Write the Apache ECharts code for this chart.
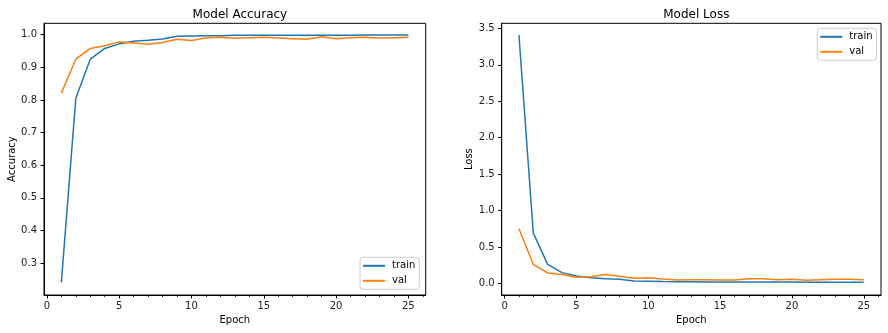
<!DOCTYPE html>
<html>
<head>
<meta charset="utf-8">
<script src="https://cdn.jsdelivr.net/npm/echarts@6/dist/echarts.min.js"></script>
<style>
html,body{margin:0;padding:0;background:#fff;}
#chart{width:888px;height:333px;}
</style>
</head>
<body>
<div id="chart"></div>
<script>
var epochs = [1,2,3,4,5,6,7,8,9,10,11,12,13,14,15,16,17,18,19,20,21,22,23,24,25];
var accTrain = [0.241,0.805,0.925,0.958,0.972,0.980,0.983,0.987,0.995,0.996,0.997,0.997,0.998,0.998,0.998,0.998,0.998,0.998,0.998,0.998,0.998,0.999,0.999,0.999,0.999];
var accVal = [0.821,0.925,0.958,0.966,0.978,0.975,0.971,0.976,0.986,0.982,0.990,0.992,0.989,0.991,0.992,0.990,0.988,0.986,0.994,0.988,0.991,0.992,0.990,0.991,0.992];
var lossTrain = [3.41,0.69,0.26,0.147,0.100,0.078,0.064,0.055,0.032,0.028,0.024,0.022,0.021,0.020,0.019,0.019,0.018,0.018,0.017,0.017,0.016,0.016,0.015,0.015,0.015];
var lossVal = [0.75,0.26,0.142,0.120,0.083,0.092,0.120,0.096,0.069,0.078,0.060,0.046,0.050,0.050,0.046,0.046,0.064,0.064,0.050,0.055,0.041,0.050,0.055,0.055,0.050];
var xTicks = [0,5,10,15,20,25];
var xMinor = [0,1,2,3,4,5,6,7,8,9,10,11,12,13,14,15,16,17,18,19,20,21,22,23,24,25,26];
var accTicks = [0.3,0.4,0.5,0.6,0.7,0.8,0.9,1.0];
var lossTicks = [0,0.5,1.0,1.5,2.0,2.5,3.0,3.5];

var FONT = 'DejaVu Sans';
var C1 = '#1f77b4', C2 = '#ff7f0e';
function pair(xs, ys){ return xs.map(function(x,i){return [x, ys[i]];}); }

function xMajor(gi){
  return {
    type:'value', gridIndex:gi, min:-0.2, max:26.2, position:'bottom',
    name:'Epoch', nameLocation:'middle', nameGap:20,
    nameTextStyle:{fontFamily:FONT,fontSize:10,color:'#000'},
    axisLine:{show:true,onZero:false,lineStyle:{color:'#000',width:1}},
    axisTick:{show:true,length:3.5,lineStyle:{color:'#000',width:1},customValues:xTicks},
    axisLabel:{show:true,margin:6,fontFamily:FONT,fontSize:10,color:'#222',customValues:xTicks},
    splitLine:{show:false}
  };
}
function xMin(gi){
  return {
    type:'value', gridIndex:gi, min:-0.2, max:26.2, position:'bottom',
    axisLine:{show:false,onZero:false},
    axisTick:{show:true,length:2,lineStyle:{color:'#000',width:0.8},customValues:xMinor},
    axisLabel:{show:false, customValues:xMinor},
    splitLine:{show:false}
  };
}
function yAx(gi,min,max,ticks,name){
  return {
    type:'value', gridIndex:gi, min:min, max:max,
    name:name, nameLocation:'middle', nameGap:27, nameRotate:90,
    nameTextStyle:{fontFamily:FONT,fontSize:10,color:'#000'},
    axisLine:{show:true,onZero:false,lineStyle:{color:'#000',width:1}},
    axisTick:{show:true,length:3.5,lineStyle:{color:'#000',width:1},customValues:ticks},
    axisLabel:{show:true,margin:7,fontFamily:FONT,fontSize:10,color:'#222',customValues:ticks,
      formatter:function(v){return v.toFixed(1);}},
    splitLine:{show:false}
  };
}
function ser(name,xi,yi,data,color){
  return {type:'line',name:name,xAxisIndex:xi,yAxisIndex:yi,data:data,
    showSymbol:false,symbol:'none',lineStyle:{color:color,width:1.5},itemStyle:{color:color},
    animation:false};
}
function legend(left,top){
  return {
    left:left, top:top, orient:'vertical',
    data:[{name:'train',icon:'rect',itemStyle:{color:C1}},{name:'val',icon:'rect',itemStyle:{color:C2}}],
    itemWidth:22, itemHeight:2, itemGap:4, padding:[3,4,3,3],
    borderColor:'#cccccc', borderWidth:1, borderRadius:3, backgroundColor:'rgba(255,255,255,0.8)',
    textStyle:{fontFamily:FONT,fontSize:10,color:'#000',lineHeight:11,padding:[0,0,0,2]},
    selectedMode:false
  };
}

var chart = echarts.init(document.getElementById('chart'), null, {renderer:'canvas'});
chart.setOption({
  backgroundColor:'#fff',
  animation:false,
  title:[
    {text:'Model Accuracy',left:234.9,top:3.5,textAlign:'center',textStyle:{fontFamily:FONT,fontSize:12,fontWeight:'normal',color:'#000'}},
    {text:'Model Loss',left:691.3,top:3.5,textAlign:'center',textStyle:{fontFamily:FONT,fontSize:12,fontWeight:'normal',color:'#000'}}
  ],
  grid:[
    {left:44,top:23.3,width:381.7,height:271.7,show:true,borderColor:'#000',borderWidth:1,backgroundColor:'transparent'},
    {left:501.7,top:23.3,width:379.3,height:271.7,show:true,borderColor:'#000',borderWidth:1,backgroundColor:'transparent'}
  ],
  xAxis:[xMajor(0), xMin(0), xMajor(1), xMin(1)],
  yAxis:[yAx(0,0.2024,1.035,accTicks,'Accuracy'), yAx(1,-0.16,3.57,lossTicks,'Loss')],
  legend:[legend(360,257.3), legend(817.3,28.3)],
  series:[
    ser('train',0,0,pair(epochs,accTrain),C1),
    ser('val',0,0,pair(epochs,accVal),C2),
    ser('train',2,1,pair(epochs,lossTrain),C1),
    ser('val',2,1,pair(epochs,lossVal),C2)
  ]
});
</script>
</body>
</html>
